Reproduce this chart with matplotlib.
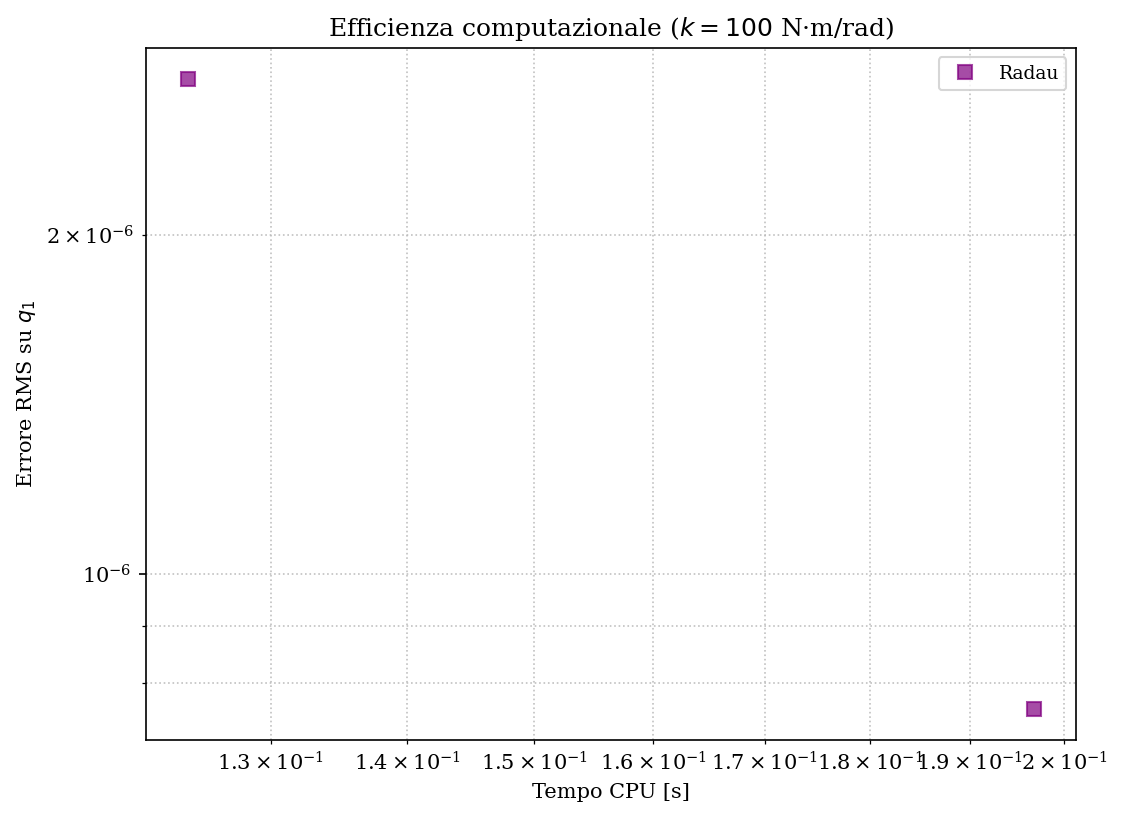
import matplotlib
matplotlib.use('Agg')
import matplotlib.pyplot as plt

plt.rcParams['font.family'] = 'serif'

# CPU time [s] and RMS error on q1 for Radau
cpu_time = [0.1243, 0.1967]
rms_err = [2.750e-6, 7.60e-7]
method = 'Radau'

fig = plt.figure(figsize=(1123 / 150, 818 / 150), dpi=150)
ax = fig.add_axes([0.130, 0.0954, 0.828, 0.8459])

ax.loglog(cpu_time, rms_err, 's', color='purple', alpha=0.7,
          markersize=6.5, markeredgecolor='purple', label=method)

ax.grid(True, which='both', linestyle=':', color='#bbbbbb', alpha=0.9)
ax.set_xlabel('Tempo CPU [s]')
ax.set_ylabel('Errore RMS su $q_1$')
ax.set_title('Efficienza computazionale ($k = 100$ N·m/rad)', fontsize=12)
ax.legend(loc='upper right', fontsize=9)

fig.savefig('out.png', dpi=150)
